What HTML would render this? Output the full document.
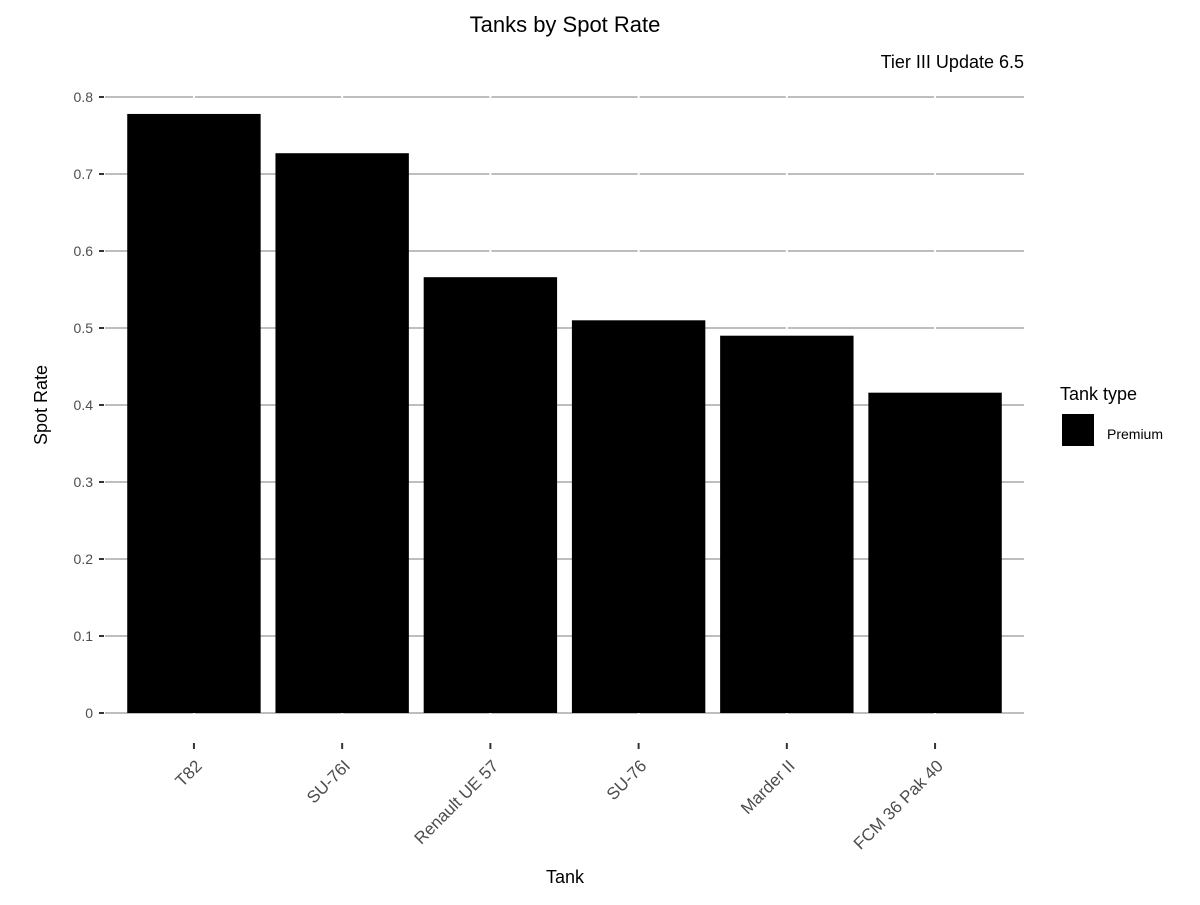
<!DOCTYPE html>
<html><head><meta charset="utf-8"><style>
html,body{margin:0;padding:0;background:#fff;}
svg text{font-family:"Liberation Sans",Arial,sans-serif;}
</style></head><body>
<svg id="chart" width="1200" height="900" xmlns="http://www.w3.org/2000/svg">
<text x="565" y="32" text-anchor="middle" font-size="22" fill="#000">Tanks by Spot Rate</text>
<text x="1024" y="68" text-anchor="end" font-size="18" fill="#000">Tier III Update 6.5</text>
<text transform="translate(47,405) rotate(-90)" text-anchor="middle" font-size="18" fill="#000">Spot Rate</text>
<text x="565" y="883" text-anchor="middle" font-size="18" fill="#000">Tank</text>
<g id="grid"></g><g id="bars"></g><g id="axes"></g>
<g>
<text x="1060" y="400" font-size="18" fill="#000">Tank type</text>
<rect x="1062" y="414" width="32" height="32" fill="#000"/>
<text x="1107" y="439" font-size="14" fill="#000">Premium</text>
</g>
</svg>
<script>
const categories=["T82","SU-76I","Renault UE 57","SU-76","Marder II","FCM 36 Pak 40"];
const values=[0.778,0.727,0.566,0.510,0.490,0.416];
const yTicks=[0,0.1,0.2,0.3,0.4,0.5,0.6,0.7,0.8];
const yTickLabels=["0","0.1","0.2","0.3","0.4","0.5","0.6","0.7","0.8"];
const NS="http://www.w3.org/2000/svg";
const px0=105,px1=1024,y0=713,yScale=770;
const n=categories.length;
const unit=(px1-px0)/(n+0.2);
function xs(i){return px0+(i+0.6)*unit;}
function ys(v){return y0-v*yScale;}
function mk(t,a){const e=document.createElementNS(NS,t);for(const k in a)e.setAttribute(k,a[k]);return e;}
const grid=document.getElementById('grid'),bars=document.getElementById('bars'),axes=document.getElementById('axes');
yTicks.forEach((v,i)=>{
 const l=mk('line',{x1:px0,x2:px1,y1:ys(v),y2:ys(v),stroke:'#bebebe','stroke-width':2});
 
 
 grid.appendChild(l);
 const t=mk('line',{x1:99,x2:104,y1:ys(v),y2:ys(v),stroke:'#333','stroke-width':2});
 
 
 axes.appendChild(t);
 const tx=mk('text',{x:93,y:ys(v)+5,'text-anchor':'end','font-size':14,fill:'#4d4d4d'});
 tx.textContent=yTickLabels[i];
 
 
 axes.appendChild(tx);
});
categories.forEach((c,i)=>{
 const cx=xs(i);
 const g=mk('line',{x1:cx,x2:cx,y1:ys(0.8)-2,y2:y0+2,stroke:'#fff','stroke-width':2});
 
 
 grid.appendChild(g);
 const w=unit*0.9;
 const r=mk('rect',{x:cx-w/2,y:ys(values[i]),width:w,height:y0-ys(values[i]),fill:'#000'});
 
 
 bars.appendChild(r);
 const t=mk('line',{x1:cx,x2:cx,y1:743,y2:749,stroke:'#333','stroke-width':2});
 
 
 axes.appendChild(t);
 const tx=mk('text',{transform:`translate(${cx+9},${767}) rotate(-45)`,'text-anchor':'end','font-size':17,fill:'#4d4d4d'});
 tx.textContent=c;
 
 
 axes.appendChild(tx);
});
</script>
</body></html>
